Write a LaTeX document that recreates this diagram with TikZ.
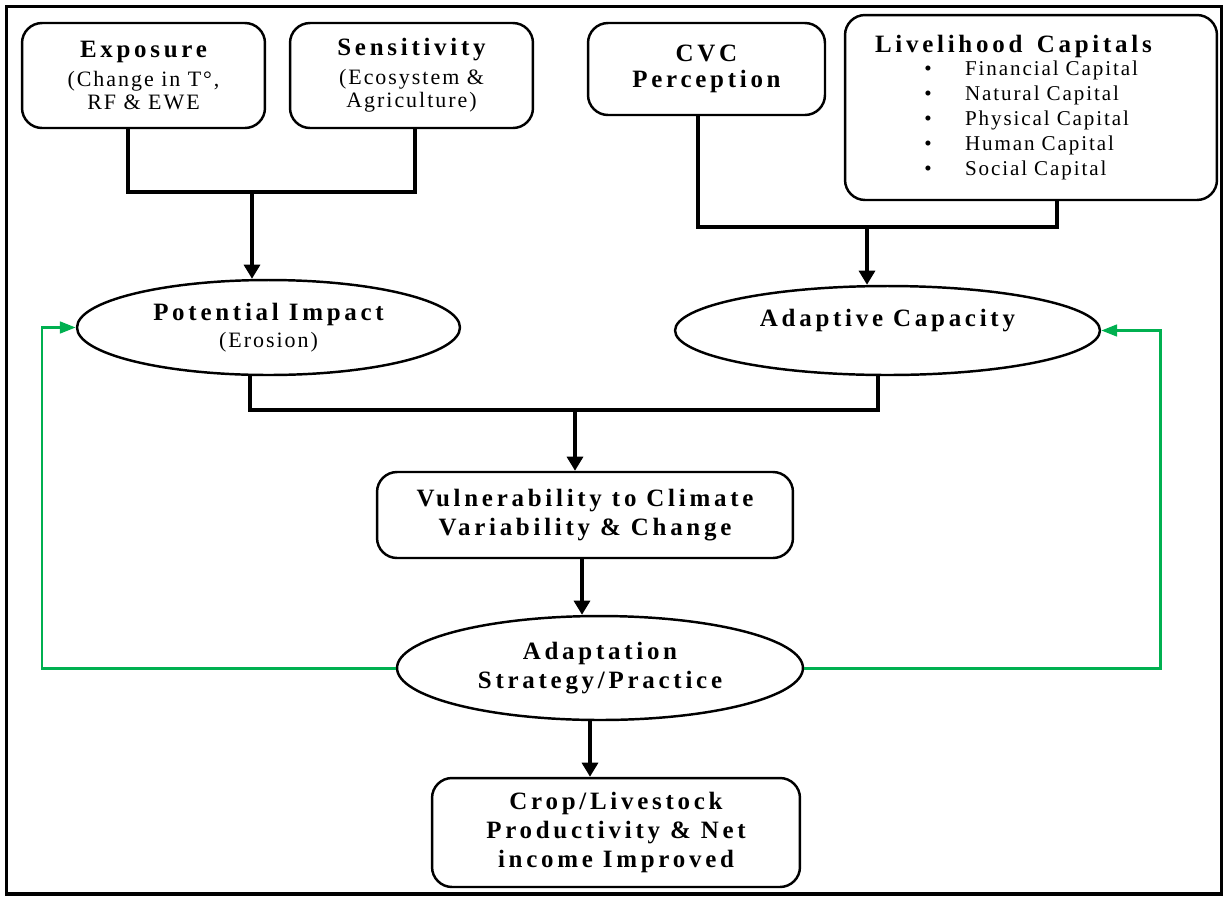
\documentclass[tikz,border=0pt]{standalone}
\usepackage{fontspec}
\setmainfont{Liberation Serif}[LetterSpace=9,BoldFeatures={LetterSpace=15}]
\usepackage{tikz}
\usetikzlibrary{positioning,shapes.geometric,arrows.meta}
\definecolor{loopgreen}{RGB}{0,176,80}
\newcommand{\headtxt}{\fontsize{14.2}{16.5}\selectfont\bfseries}
\newcommand{\subtxt}{\fontsize{12.5}{13.1}\selectfont\mdseries}
\newcommand{\itemtxt}{\fontsize{12}{14.2}\selectfont\mdseries}
\newcommand{\capitem}[1]{\itemtxt\hspace*{1.06cm}\makebox[0pt]{\textbullet}\hspace*{0.74cm}#1}
\tikzstyle{capbox} = [draw, line width=1.4pt, rounded corners=0.4cm, inner sep=0pt, align=center, font=\headtxt]
\tikzstyle{oval} = [draw, ellipse, line width=1.4pt, inner sep=0pt, align=center, font=\headtxt]
\tikzstyle{link} = [line width=2.8pt]
\tikzstyle{linkarrow} = [link, -{Triangle[width=9pt,length=8pt]}]
\tikzstyle{feedback} = [draw=loopgreen, line width=1.7pt, -{Triangle[width=6.5pt,length=9pt]}]

\begin{document}
\begin{tikzpicture}[x=0.02cm, y=-0.02cm]
	\useasboundingbox (0,0) rectangle (1225,897);
	\draw[line width=2pt] (6.5,6.5) rectangle (1221.5,894);
	% top row
	\node[capbox, minimum width=4.86cm, minimum height=2.1cm] (expo) at (143.5,75.5)
		{Exposure\\ \subtxt (Change in T°,\\[-3.4pt] \subtxt RF \& EWE};
	\node[capbox, minimum width=4.86cm, minimum height=2.1cm] (sens) at (411.5,75.5)
		{Sensitivity\\ \subtxt (Ecosystem \&\\[-3.4pt] \subtxt Agriculture)};
	\node[capbox, minimum width=4.74cm, minimum height=1.84cm] (cvc) at (706.5,69)
		{CVC\\[-2pt] Perception};
	\node[capbox, inner xsep=0.6cm, text width=6.24cm, minimum height=3.7cm, align=left, font=\itemtxt] (live) at (1031,107.5)
		{\headtxt Livelihood\hspace{0.3em} Capitals\\[-1pt]
		\capitem{Financial Capital}\\
		\capitem{Natural Capital}\\
		\capitem{Physical Capital}\\
		\capitem{Human Capital}\\
		\capitem{Social Capital}};
	% middle
	\node[oval, minimum width=7.66cm, minimum height=1.9cm] (pot) at (268.5,327.5)
		{Potential Impact\\[-1pt] \subtxt (Erosion)};
	\node[oval, minimum width=8.5cm, minimum height=1.78cm, text height=10pt, text depth=14pt] (adcap) at (887.5,330.5)
		{Adaptive Capacity};
	\node[capbox, minimum width=8.32cm, minimum height=1.72cm] (vul) at (585,515)
		{Vulnerability to Climate\\ Variability \& Change};
	\node[oval, minimum width=8.12cm, minimum height=2.08cm] (adapt) at (600,668)
		{Adaptation\\ Strategy/Practice};
	\node[capbox, minimum width=7.36cm, minimum height=2.18cm] (crop) at (616,832.5)
		{Crop/Livestock\\ Productivity \& Net\\ income Improved};
	% joints
	\coordinate (j1) at (252,192);
	\coordinate (j2) at (867,227);
	\coordinate (j3) at (575,410);
	\coordinate (gl) at (42,327.5);
	\coordinate (gr) at (1160,330.5);
	% connectors
	\draw[link] ([xshift=-0.31cm]expo.south) |- (j1) -| ([xshift=0.07cm]sens.south);
	\draw[linkarrow] (j1) -- (j1 |- pot.north);
	\draw[link] ([xshift=-0.17cm]cvc.south) |- (j2) -| ([xshift=0.52cm]live.south);
	\draw[linkarrow] (j2) -- (j2 |- adcap.north);
	\draw[link] ([xshift=-0.37cm]pot.south) |- (j3) -| ([xshift=-0.19cm]adcap.south);
	\draw[linkarrow] (j3) -- (j3 |- vul.north);
	\draw[linkarrow] ([xshift=-0.06cm]vul.south) -- ([xshift=-0.06cm]vul.south |- adapt.north);
	\draw[linkarrow] ([xshift=-0.2cm]adapt.south) -- ([xshift=-0.2cm]adapt.south |- crop.north);
	% feedback loops
	\draw[feedback] (adapt.west) -| (gl) -- (pot.west);
	\draw[feedback] (adapt.east) -| (gr) -- (adcap.east);
\end{tikzpicture}
\end{document}
